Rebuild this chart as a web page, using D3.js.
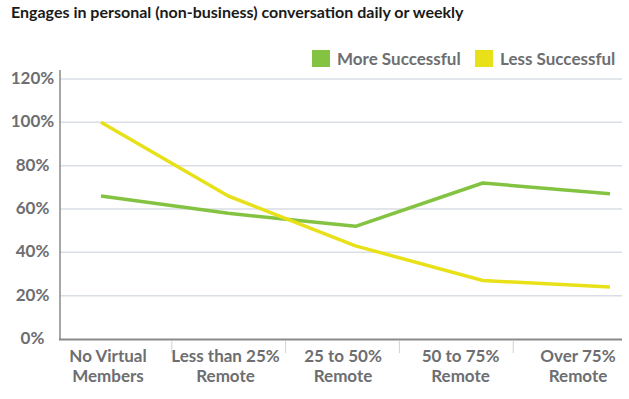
<!DOCTYPE html>
<html>
<head>
<meta charset="utf-8">
<script src="https://cdn.jsdelivr.net/npm/d3@7"></script>
<style>
  body { margin: 0; background: #fff; }
  text { font-family: Lato, "Open Sans", sans-serif; }
</style>
</head>
<body>
<script>
var categories = [["No Virtual", "Members"], ["Less than 25%", "Remote"], ["25 to 50%", "Remote"], ["50 to 75%", "Remote"], ["Over 75%", "Remote"]];
var seriesNames = ["More Successful", "Less Successful"];
var moreSuccessful = [66, 58, 52, 72, 67];
var lessSuccessful = [100, 66, 43, 27, 24];
var yTicks = [0, 20, 40, 60, 80, 100, 120];

var width = 629, height = 399;
var gray = "#6d6e71";

var svg = d3.select("body").append("svg")
    .attr("width", width)
    .attr("height", height);

var idx = d3.range(categories.length);

// separators between categories
var xBand = d3.scaleBand()
    .domain(idx)
    .range([58, 627]);

// label centres and line points sit on slightly different grids in the original
var xLabel = d3.scalePoint()
    .domain(idx)
    .range([108, 578]);

var xLine = d3.scalePoint()
    .domain(idx)
    .range([101, 610]);

var y = d3.scaleLinear()
    .domain([0, 120])
    .range([339, 79]);

var color = d3.scaleOrdinal()
    .domain(seriesNames)
    .range(["#84c341", "#e8e11a"]);

// title
svg.append("text")
    .attr("x", 11)
    .attr("y", 18)
    .style("font-size", "16px")
    .style("font-weight", "bold")
    .style("fill", "#1a1a1a")
    .text("Engages in personal (non-business) conversation daily or weekly");

// gridlines
svg.selectAll(".grid")
  .data(yTicks.filter(function(d) { return d > 0; }))
  .enter().append("line")
    .attr("class", "grid")
    .attr("x1", 60)
    .attr("x2", 622)
    .attr("y1", function(d) { return y(d); })
    .attr("y2", function(d) { return y(d); })
    .style("stroke", "#d9dee4")
    .style("stroke-width", 1.5);

// y labels
svg.selectAll(".ylab")
  .data(yTicks)
  .enter().append("text")
    .attr("class", "ylab")
    .attr("x", 32.5)
    .attr("y", function(d) { return y(d) - 1; })
    .attr("dy", "0.36em")
    .attr("text-anchor", "middle")
    .style("font-size", "17px")
    .style("font-weight", "bold")
    .style("fill", gray)
    .text(function(d) { return d + "%"; });

// axes lines
svg.append("line")
    .attr("x1", 60).attr("x2", 60)
    .attr("y1", 70).attr("y2", 340)
    .style("stroke", "#8a8a8a")
    .style("stroke-width", 1.5);

svg.append("line")
    .attr("x1", 59).attr("x2", 622)
    .attr("y1", 339.5).attr("y2", 339.5)
    .style("stroke", "#8a8a8a")
    .style("stroke-width", 2);

// category separators
svg.selectAll(".sep")
  .data(idx.slice(1))
  .enter().append("line")
    .attr("class", "sep")
    .attr("x1", function(d) { return xBand(d); })
    .attr("x2", function(d) { return xBand(d); })
    .attr("y1", 341)
    .attr("y2", 353)
    .style("stroke", "#cbd3dc")
    .style("stroke-width", 1);

// category labels
var lab = svg.selectAll(".xlab")
  .data(idx)
  .enter().append("text")
    .attr("class", "xlab")
    .attr("text-anchor", "middle")
    .style("font-size", "17px")
    .style("font-weight", "bold")
    .style("fill", gray);

lab.selectAll("tspan")
  .data(function(d) { return categories[d].map(function(t, i) { return {t: t, i: i, c: d}; }); })
  .enter().append("tspan")
    .attr("x", function(d) { return xLabel(d.c); })
    .attr("y", function(d) { return 362 + d.i * 19.5; })
    .text(function(d) { return d.t; });

// lines
var line = d3.line()
    .x(function(d, i) { return xLine(i); })
    .y(function(d) { return y(d); });

var series = [
  {name: seriesNames[0], values: moreSuccessful},
  {name: seriesNames[1], values: lessSuccessful}
];

svg.selectAll(".series")
  .data(series)
  .enter().append("path")
    .attr("class", "series")
    .attr("d", function(d) { return line(d.values); })
    .style("fill", "none")
    .style("stroke", function(d) { return color(d.name); })
    .style("stroke-width", 3.5)
    .style("stroke-linejoin", "round");

// legend
var legendX = [312, 475];
var leg = svg.selectAll(".legend")
  .data(seriesNames)
  .enter().append("g")
    .attr("class", "legend")
    .attr("transform", function(d, i) { return "translate(" + legendX[i] + ",50)"; });

leg.append("rect")
    .attr("width", 18)
    .attr("height", 17)
    .style("fill", function(d) { return color(d); });

leg.append("text")
    .attr("x", 25)
    .attr("y", 15)
    .style("font-size", "17px")
    .style("font-weight", "bold")
    .style("fill", gray)
    .text(function(d) { return d; });
</script>
</body>
</html>
